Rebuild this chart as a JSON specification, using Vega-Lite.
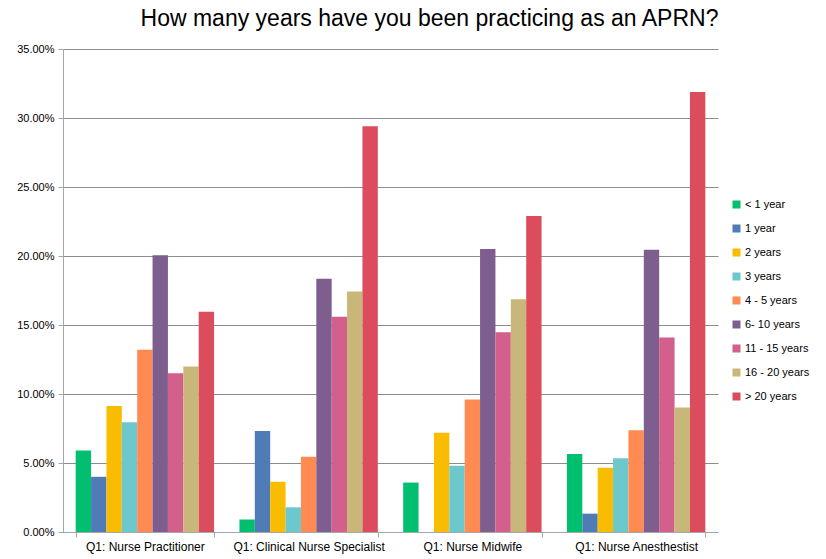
{
  "$schema": "https://vega.github.io/schema/vega-lite/v6.json",
  "autosize": {"type": "none"},
  "padding": {"left": 63, "top": 49, "right": 108, "bottom": 27},
  "width": 655,
  "height": 483,
  "background": "white",
  "title": {
    "text": "How many years have you been practicing as an APRN?",
    "font": "Liberation Sans",
    "fontSize": 23,
    "fontWeight": "normal",
    "color": "#000000",
    "anchor": "middle",
    "dx": 39,
    "offset": 12
  },
  "data": {
    "values": [
      {"group": "Q1: Nurse Practitioner", "years": "< 1 year", "pct": 0.059},
      {"group": "Q1: Nurse Practitioner", "years": "1 year", "pct": 0.040},
      {"group": "Q1: Nurse Practitioner", "years": "2 years", "pct": 0.0913},
      {"group": "Q1: Nurse Practitioner", "years": "3 years", "pct": 0.0795},
      {"group": "Q1: Nurse Practitioner", "years": "4 - 5  years", "pct": 0.132},
      {"group": "Q1: Nurse Practitioner", "years": "6- 10 years", "pct": 0.2005},
      {"group": "Q1: Nurse Practitioner", "years": "11 - 15 years", "pct": 0.115},
      {"group": "Q1: Nurse Practitioner", "years": "16 - 20 years", "pct": 0.120},
      {"group": "Q1: Nurse Practitioner", "years": "> 20 years", "pct": 0.1596},
      {"group": "Q1: Clinical Nurse Specialist", "years": "< 1 year", "pct": 0.0091},
      {"group": "Q1: Clinical Nurse Specialist", "years": "1 year", "pct": 0.0732},
      {"group": "Q1: Clinical Nurse Specialist", "years": "2 years", "pct": 0.0364},
      {"group": "Q1: Clinical Nurse Specialist", "years": "3 years", "pct": 0.0179},
      {"group": "Q1: Clinical Nurse Specialist", "years": "4 - 5  years", "pct": 0.0545},
      {"group": "Q1: Clinical Nurse Specialist", "years": "6- 10 years", "pct": 0.1835},
      {"group": "Q1: Clinical Nurse Specialist", "years": "11 - 15 years", "pct": 0.156},
      {"group": "Q1: Clinical Nurse Specialist", "years": "16 - 20 years", "pct": 0.1743},
      {"group": "Q1: Clinical Nurse Specialist", "years": "> 20 years", "pct": 0.294},
      {"group": "Q1: Nurse Midwife", "years": "< 1 year", "pct": 0.0358},
      {"group": "Q1: Nurse Midwife", "years": "1 year", "pct": 0},
      {"group": "Q1: Nurse Midwife", "years": "2 years", "pct": 0.0719},
      {"group": "Q1: Nurse Midwife", "years": "3 years", "pct": 0.048},
      {"group": "Q1: Nurse Midwife", "years": "4 - 5  years", "pct": 0.096},
      {"group": "Q1: Nurse Midwife", "years": "6- 10 years", "pct": 0.205},
      {"group": "Q1: Nurse Midwife", "years": "11 - 15 years", "pct": 0.1447},
      {"group": "Q1: Nurse Midwife", "years": "16 - 20 years", "pct": 0.1686},
      {"group": "Q1: Nurse Midwife", "years": "> 20 years", "pct": 0.229},
      {"group": "Q1: Nurse Anesthestist", "years": "< 1 year", "pct": 0.0565},
      {"group": "Q1: Nurse Anesthestist", "years": "1 year", "pct": 0.0133},
      {"group": "Q1: Nurse Anesthestist", "years": "2 years", "pct": 0.0466},
      {"group": "Q1: Nurse Anesthestist", "years": "3 years", "pct": 0.0534},
      {"group": "Q1: Nurse Anesthestist", "years": "4 - 5  years", "pct": 0.0737},
      {"group": "Q1: Nurse Anesthestist", "years": "6- 10 years", "pct": 0.2046},
      {"group": "Q1: Nurse Anesthestist", "years": "11 - 15 years", "pct": 0.141},
      {"group": "Q1: Nurse Anesthestist", "years": "16 - 20 years", "pct": 0.0903},
      {"group": "Q1: Nurse Anesthestist", "years": "> 20 years", "pct": 0.3188}
    ]
  },
  "mark": {"type": "bar"},
  "encoding": {
    "x": {
      "field": "group",
      "type": "nominal",
      "sort": null,
      "title": null,
      "scale": {"paddingInner": 0.155, "paddingOuter": 0.0775},
      "axis": {
        "labelAngle": 0,
        "labelFont": "Liberation Sans",
        "labelFontSize": 12,
        "labelColor": "#000000",
        "labelPadding": 4,
        "tickBand": "extent",
        "tickSize": 5,
        "tickColor": "#a6a6a6",
        "domainColor": "#a6a6a6",
        "grid": false
      }
    },
    "xOffset": {
      "field": "years",
      "type": "nominal",
      "sort": ["< 1 year", "1 year", "2 years", "3 years", "4 - 5  years", "6- 10 years", "11 - 15 years", "16 - 20 years", "> 20 years"],
      "scale": {"paddingInner": 0, "paddingOuter": 0}
    },
    "y": {
      "field": "pct",
      "type": "quantitative",
      "title": null,
      "scale": {"domain": [0, 0.35], "nice": false},
      "axis": {
        "values": [0, 0.05, 0.1, 0.15, 0.2, 0.25, 0.3, 0.35],
        "format": ".2%",
        "labelFont": "Liberation Sans",
        "labelFontSize": 11,
        "labelColor": "#000000",
        "labelPadding": 4,
        "tickSize": 5,
        "tickColor": "#a6a6a6",
        "domainColor": "#a6a6a6",
        "gridColor": "#8c8c8c",
        "gridWidth": 1
      }
    },
    "color": {
      "field": "years",
      "type": "nominal",
      "scale": {
        "domain": ["< 1 year", "1 year", "2 years", "3 years", "4 - 5  years", "6- 10 years", "11 - 15 years", "16 - 20 years", "> 20 years"],
        "range": ["#00BF6F", "#4F7BB6", "#F8BD00", "#6CC8CC", "#FF8B52", "#7E5D8F", "#D35F8D", "#C9B77A", "#DB4C5C"]
      },
      "legend": {
        "title": null,
        "orient": "none",
        "legendX": 668,
        "legendY": 150,
        "symbolType": "square",
        "symbolSize": 64,
        "symbolStrokeWidth": 0,
        "labelFont": "Liberation Sans",
        "labelFontSize": 11,
        "labelColor": "#000000",
        "labelOffset": 3,
        "rowPadding": 12
      }
    }
  },
  "config": {
    "view": {"stroke": null},
    "axis": {"domainWidth": 1}
  }
}
